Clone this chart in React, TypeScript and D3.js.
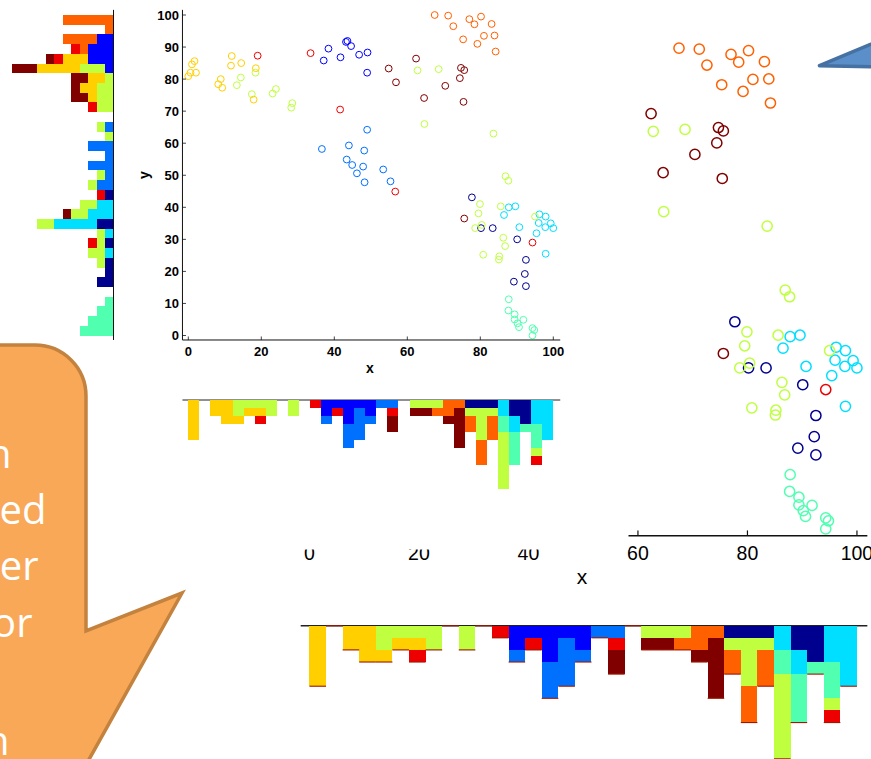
import React from "react";
import * as d3 from "d3";

const W = 871;
const H = 759;

// jet-style palette, one colour per cluster (stacking order follows this list)
const clusterColors = [
  "#00008f", "#0000ff", "#0070ff", "#00dfff", "#50ffb0",
  "#bfff40", "#ffcf00", "#ff6000", "#ef0000", "#800000",
];

type Pt = [number, number];

const navyPts: Pt[] = [
  [77.7, 43.1], [80.2, 33.5], [83.4, 33.5], [90.1, 30.0],
  [92.5, 23.6], [92.2, 19.2], [89.2, 16.8], [92.5, 15.4],
];
const bluePts: Pt[] = [
  [38.4, 89.5], [37.1, 85.8], [41.7, 86.8], [43.2, 91.6], [43.6, 91.9],
  [44.6, 90.3], [46.8, 87.6], [49.1, 88.3], [49.0, 82.0],
];
const azurePts: Pt[] = [
  [36.6, 58.2], [49.0, 64.2], [44.0, 59.3], [43.4, 54.9], [44.9, 53.2], [48.2, 57.7],
  [47.9, 52.7], [46.2, 50.6], [48.3, 47.8], [53.4, 51.8], [55.4, 48.1],
];
const cyanPts: Pt[] = [
  [87.8, 40.0], [89.6, 40.3], [86.5, 37.6], [96.2, 37.8], [97.9, 37.1], [96.0, 35.1],
  [99.3, 35.0], [97.8, 33.8], [100, 33.5], [90.7, 33.8], [95.4, 31.9], [97.9, 25.5],
];
const aquaPts: Pt[] = [
  [87.8, 11.3], [87.7, 7.8], [89.4, 6.6], [89.4, 5.0], [91.8, 4.9],
  [90.2, 3.8], [90.6, 2.6], [94.3, 2.3], [94.8, 1.7], [94.3, 0],
];
const limePts: Pt[] = [
  [13.3, 78.1], [14.4, 80.5], [18.4, 82.0], [17.4, 75.3], [23.1, 75.5], [24.0, 76.9],
  [28.5, 72.5], [28.2, 71.1], [62.8, 82.7], [68.6, 83.1], [64.7, 66.0], [83.6, 63.0],
  [86.9, 49.7], [87.7, 48.3], [79.9, 41.0], [79.5, 38.1], [85.6, 40.3], [78.6, 33.5],
  [80.4, 34.5], [86.3, 30.5], [86.8, 27.9], [80.8, 25.2], [85.2, 24.7], [85.1, 23.7],
  [95.0, 37.1],
];
const goldPts: Pt[] = [
  [0, 80.9], [0.6, 82.0], [1.0, 84.6], [1.7, 85.6], [2.1, 82.0], [8.2, 78.4], [8.9, 80.0],
  [9.3, 77.3], [11.9, 87.2], [11.7, 84.2], [14.5, 85.0], [18.5, 83.4], [17.9, 73.6],
];
const orangePts: Pt[] = [
  [67.5, 100], [71.2, 99.8], [72.6, 96.5], [77.0, 98.7], [78.4, 97.1], [80.2, 99.5],
  [83.1, 97.2], [75.3, 92.4], [79.2, 91.0], [81.0, 93.5], [83.9, 93.6], [84.2, 88.6],
];
const redPts: Pt[] = [
  [19.0, 87.3], [33.5, 88.1], [41.6, 70.5], [56.7, 44.9], [94.3, 29.0],
];
const maroonPts: Pt[] = [
  [54.9, 83.3], [56.9, 79.0], [62.4, 86.4], [64.6, 74.1], [70.4, 77.9],
  [74.7, 83.5], [75.6, 82.8], [74.4, 80.3], [75.4, 72.9], [75.6, 36.5],
];

const clusters: Pt[][] = [
  navyPts, bluePts, azurePts, cyanPts, aquaPts,
  limePts, goldPts, orangePts, redPts, maroonPts,
];

const xTicks = [0, 20, 40, 60, 80, 100];
const yTicks = [0, 10, 20, 30, 40, 50, 60, 70, 80, 90, 100];
const dataDomain: [number, number] = [0, 100];
const binCount = 33;

const calloutLines = ["Each histogram column", "is stacked", "by cluster", "color", "per bin"];

// histogram bins shared by both marginals
const binEdges = d3.range(binCount + 1).map(
  (i) => dataDomain[0] + (i * (dataDomain[1] - dataDomain[0])) / binCount
);
const binner = d3.bin<number, number>().domain(dataDomain).thresholds(binEdges.slice(1, -1));
const keys = clusters.map((_, c) => String(c));

function stackedCounts(axis: 0 | 1) {
  const perCluster = clusters.map((pts) => binner(pts.map((p) => p[axis])).map((b) => b.length));
  const rows = d3.range(binCount).map((i) => {
    const r: Record<string, number> = {};
    perCluster.forEach((cnt, c) => (r[String(c)] = cnt[i] || 0));
    return r;
  });
  return d3.stack<Record<string, number>>().keys(keys)(rows);
}

const xStack = stackedCounts(0);
const yStack = stackedCounts(1);
const xTotals = d3.range(binCount).map((i) => xStack[xStack.length - 1][i][1]);

const axisFont = "'Liberation Sans', Arial, Helvetica, sans-serif";

function Figure({ heavy, edgeLines }: { heavy: boolean; edgeLines: boolean }) {
  const x = d3.scaleLinear().domain(dataDomain).range([188.3, 553.3]);
  const y = d3.scaleLinear().domain(dataDomain).range([335.5, 15]);
  const xLim = [-1.6, 101.9];
  const yLim = [-1.4, 101.6];
  const histBase = 400;
  const colDepth = d3.scaleLinear().domain([0, 1]).range([histBase, histBase + 8.07]);
  const rowAxis = 113.5;
  const rowDepth = d3.scaleLinear().domain([0, 1]).range([rowAxis, rowAxis - 8.47]);
  const fw = heavy ? 700 : 400;
  const tick = 3.5;
  const x0 = x(xLim[0]);
  const yb = y(yLim[0]);

  return (
    <g>
      {/* marginal histogram along y */}
      <g shapeRendering="crispEdges">
        {yStack.map((layer, c) =>
          layer.map((d, i) =>
            d[1] > d[0] ? (
              <rect
                key={`ry${c}-${i}`}
                x={rowDepth(d[1])}
                y={y(binEdges[i + 1])}
                width={rowDepth(d[0]) - rowDepth(d[1])}
                height={y(binEdges[i]) - y(binEdges[i + 1])}
                fill={clusterColors[c]}
              />
            ) : null
          )
        )}
      </g>
      <line x1={rowAxis} x2={rowAxis} y1={y(yLim[0])} y2={y(yLim[1])} stroke="#111" strokeWidth={1} />

      {/* marginal histogram along x */}
      <line x1={x(xLim[0])} x2={x(xLim[1])} y1={histBase} y2={histBase} stroke="#222" strokeWidth={1} />
      <g shapeRendering="crispEdges">
        {xStack.map((layer, c) =>
          layer.map((d, i) =>
            d[1] > d[0] ? (
              <rect
                key={`cx${c}-${i}`}
                x={x(binEdges[i])}
                y={colDepth(d[0])}
                width={x(binEdges[i + 1]) - x(binEdges[i])}
                height={colDepth(d[1]) - colDepth(d[0])}
                fill={clusterColors[c]}
              />
            ) : null
          )
        )}
      </g>
      {edgeLines &&
        xTotals.map((t, i) => (
          <line
            key={`e${i}`}
            x1={x(binEdges[i])}
            x2={x(binEdges[i + 1])}
            y1={colDepth(t)}
            y2={colDepth(t)}
            stroke="#a01800"
            strokeWidth={0.75}
          />
        ))}

      {/* scatter */}
      {clusters.map((pts, c) =>
        pts.map((p, i) => (
          <circle
            key={`p${c}-${i}`}
            cx={x(p[0])}
            cy={y(p[1])}
            r={3.4}
            fill="none"
            stroke={clusterColors[c]}
            strokeWidth={1}
          />
        ))
      )}

      {/* axes */}
      <line x1={x0} x2={x0} y1={y(yLim[0])} y2={y(yLim[1])} stroke="#111" strokeWidth={1} />
      <line x1={x(xLim[0])} x2={x(xLim[1])} y1={yb} y2={yb} stroke="#111" strokeWidth={1} />
      {xTicks.map((t) => (
        <g key={`xt${t}`}>
          <line x1={x(t)} x2={x(t)} y1={yb} y2={yb - tick} stroke="#111" strokeWidth={0.8} />
          <text
            x={x(t)}
            y={356.4}
            textAnchor="middle"
            fontFamily={axisFont}
            fontWeight={fw}
            fontSize={13}
            fill="#000"
          >
            {t}
          </text>
        </g>
      ))}
      {yTicks.map((t) => (
        <g key={`yt${t}`}>
          <line x1={x0} x2={x0 + tick} y1={y(t)} y2={y(t)} stroke="#111" strokeWidth={0.8} />
          <text
            x={179}
            y={y(t)}
            dy="0.36em"
            textAnchor="end"
            fontFamily={axisFont}
            fontWeight={fw}
            fontSize={13}
            fill="#000"
          >
            {t}
          </text>
        </g>
      ))}
      <text x={370} y={372.5} textAnchor="middle" fontFamily={axisFont} fontWeight={fw} fontSize={14} fill="#000">
        x
      </text>
      <text
        transform="translate(148.5,175) rotate(-90)"
        textAnchor="middle"
        fontFamily={axisFont}
        fontWeight={fw}
        fontSize={14}
        fill="#000"
      >
        y
      </text>
    </g>
  );
}

export default function App() {
  const calloutRight = [11.5, 46.5, 38.5, 32.5, 9.5];
  const calloutBase = [468, 524, 580, 637, 755];
  return (
    <svg
      width={W}
      height={H}
      viewBox={`0 0 ${W} ${H}`}
      style={{ position: "absolute", left: 0, top: 0, display: "block", background: "#fff" }}
    >
      <rect x={0} y={0} width={W} height={H} fill="#fff" />

      {/* enlarged copy of the figure */}
      <g transform="translate(27,25.7) scale(1.5)">
        <Figure heavy={false} edgeLines={true} />
      </g>

      {/* panel backing for the small figure */}
      <rect x={0} y={0} width={628.5} height={549.5} fill="#fff" />
      <Figure heavy={true} edgeLines={false} />

      {/* callout */}
      <path
        d="M -10 345 L 35 345 A 51 51 0 0 1 86 396 L 86 631 L 182 593 L 82 772 L -10 772 Z"
        fill="#f9a857"
        stroke="#c3823e"
        strokeWidth={3.5}
        strokeLinejoin="miter"
      />
      {calloutLines.map((t, i) => (
        <text
          key={`cl${i}`}
          x={calloutRight[i]}
          y={calloutBase[i]}
          textAnchor="end"
          fontFamily="'Open Sans', 'Noto Sans', sans-serif"
          fontSize={40}
          fill="#fff"
        >
          {t}
        </text>
      ))}

      {/* pointer */}
      <path
        d="M 940 15 L 819.5 65.7 L 940 68 Z"
        fill="#5b8fca"
        stroke="#4572a3"
        strokeWidth={3.5}
        strokeLinejoin="round"
      />
    </svg>
  );
}
